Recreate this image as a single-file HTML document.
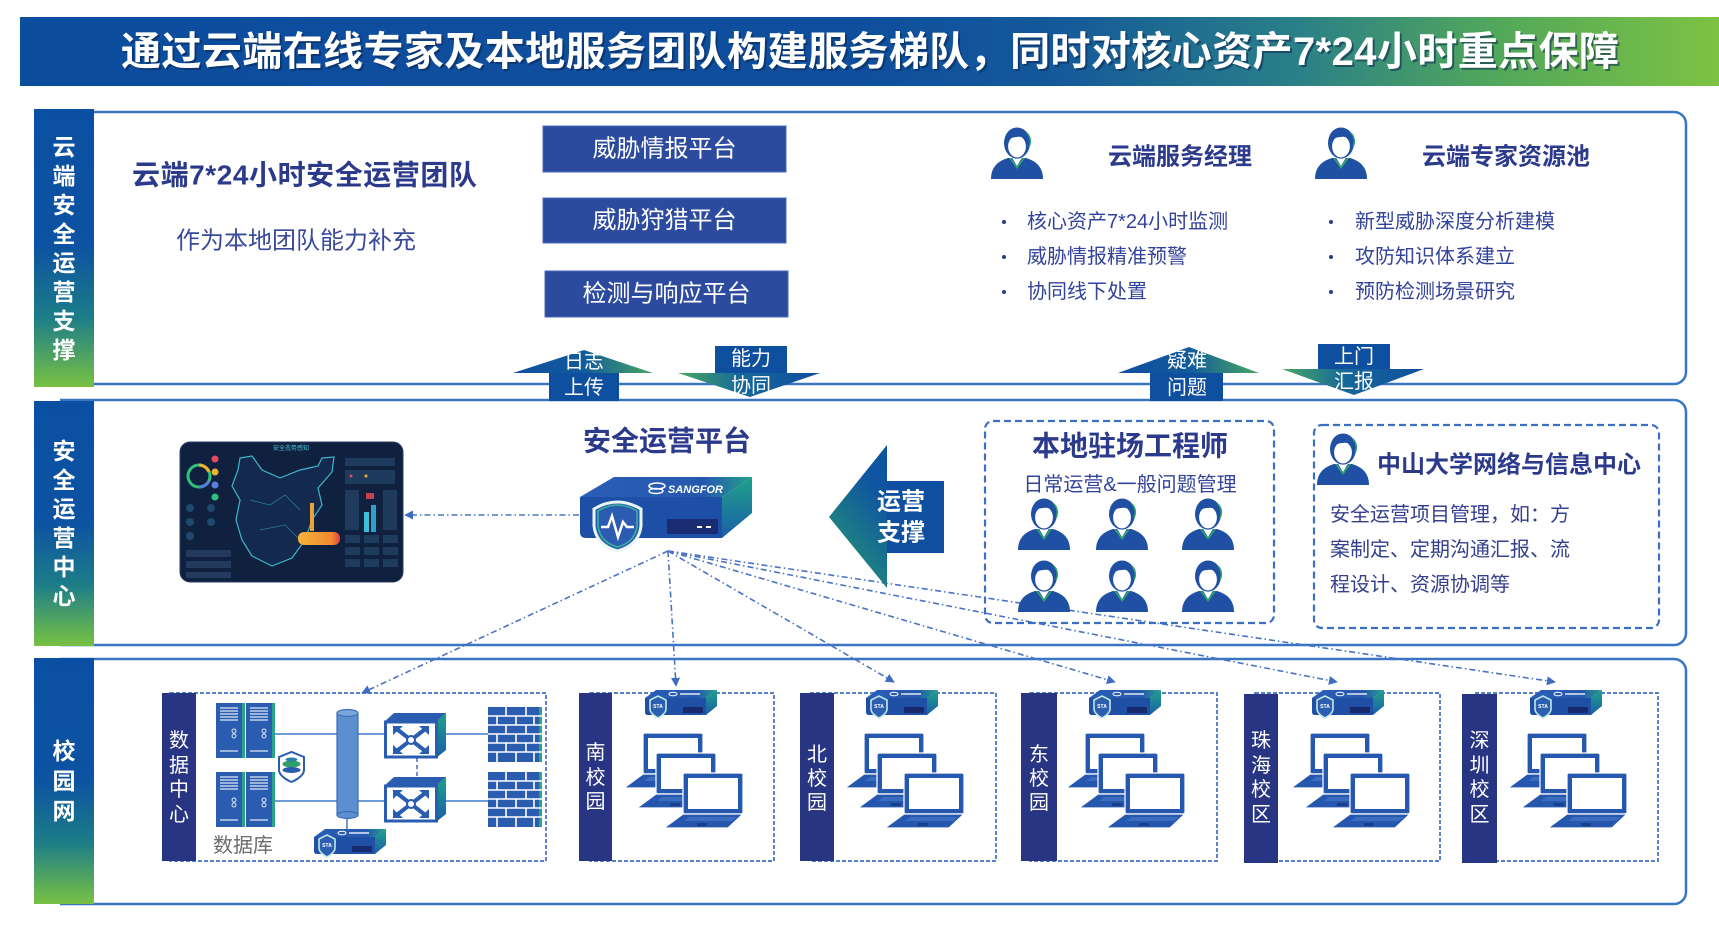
<!DOCTYPE html>
<html><head><meta charset="utf-8"><style>
html,body{margin:0;padding:0;background:#fff;}
svg{display:block;}
text{font-family:"Liberation Sans","Noto Sans CJK SC",sans-serif;}
</style></head><body>
<svg width="1719" height="930" viewBox="0 0 1719 930" xmlns="http://www.w3.org/2000/svg">
<defs>
<linearGradient id="titleG" x1="0" y1="0" x2="1" y2="0">
<stop offset="0" stop-color="#0d4d9d"/><stop offset="0.49" stop-color="#0e4e9d"/><stop offset="0.61" stop-color="#14599a"/><stop offset="0.75" stop-color="#2a7f88"/><stop offset="0.87" stop-color="#52a85a"/><stop offset="1" stop-color="#7dc243"/>
</linearGradient>
<linearGradient id="labG" x1="0" y1="0" x2="0" y2="1">
<stop offset="0" stop-color="#0b4fa3"/><stop offset="0.5" stop-color="#0d53a1"/><stop offset="0.75" stop-color="#1c7d88"/><stop offset="1" stop-color="#78c143"/>
</linearGradient>
<linearGradient id="upG" x1="0" y1="0" x2="1" y2="0">
<stop offset="0" stop-color="#0f4f9f"/><stop offset="0.5" stop-color="#125a9c"/><stop offset="1" stop-color="#46a862"/>
</linearGradient>
<linearGradient id="dnG" x1="0" y1="0" x2="1" y2="0">
<stop offset="0" stop-color="#48a862"/><stop offset="0.45" stop-color="#16679a"/><stop offset="1" stop-color="#0f4f9f"/>
</linearGradient>
<linearGradient id="bigG" x1="1" y1="0" x2="0" y2="1">
<stop offset="0" stop-color="#0d4e9f"/><stop offset="0.45" stop-color="#0f55a0"/><stop offset="0.8" stop-color="#1f8580"/><stop offset="1" stop-color="#3aa06a"/>
</linearGradient>
<linearGradient id="devTopG" x1="0" y1="0" x2="1" y2="0">
<stop offset="0" stop-color="#2a5db6"/><stop offset="0.72" stop-color="#2659ae"/><stop offset="1" stop-color="#23a08a"/>
</linearGradient>
<linearGradient id="devSideG" x1="0" y1="0" x2="0" y2="1">
<stop offset="0" stop-color="#1fa08a"/><stop offset="1" stop-color="#1a5fa8"/>
</linearGradient>
<linearGradient id="orG" x1="0" y1="0" x2="1" y2="0">
<stop offset="0" stop-color="#f6b23a"/><stop offset="0.8" stop-color="#f08a30"/><stop offset="1" stop-color="#e0404a"/>
</linearGradient>
<marker id="ah" viewBox="0 0 10 10" refX="9" refY="5" markerWidth="9" markerHeight="9" orient="auto" markerUnits="userSpaceOnUse"><path d="M0 0 L10 5 L0 10 Z" fill="#3d6cc0"/></marker>

<g id="person">
<path d="M1 52 C1 40 8 34 18 31 L36 31 C46 34 53 40 53 52 Z" fill="#1f50a4"/>
<path d="M21 29 L27 39 L33 29 Z" fill="#fff"/>
<path d="M19 31 L27 42 L35 31 L33 31 L27 39 L21 31 Z" fill="#2ea56c"/>
<ellipse cx="27" cy="16" rx="13" ry="15.5" fill="#1f50a4"/>
<ellipse cx="27" cy="19.5" rx="9.5" ry="11.5" fill="#fff" stroke="#1f50a4" stroke-width="1.2"/>
<path d="M15 17 C14 6 20 1 27 1 C35 1 40 6 39 17 C36 11 31 9 27 10 C22 10 18 12 15 17 Z" fill="#1f50a4"/>
<path d="M37 6 C41 10 41 16 39 20" fill="none" stroke="#2ea56c" stroke-width="1.5"/>
</g>

<g id="sdev">
<polygon points="2,11 13,3 74,3 63,11" fill="url(#devTopG)"/>
<path d="M2 11 H63 V28 H5 Q2 28 2 25 Z" fill="#1f50a6"/>
<polygon points="63,11 74,3 74,19 63,28" fill="url(#devSideG)"/>
<rect x="40" y="20" width="20" height="6" fill="#172a6e"/>
<path d="M7 13 L15 9 L23 13 V22 C23 27 15 31 15 31 C15 31 7 27 7 22 Z" fill="#2c5fb2" stroke="#bfe8e0" stroke-width="1.6"/>
<ellipse cx="30" cy="7" rx="4" ry="1.8" fill="none" stroke="#fff" stroke-width="1"/>
<rect x="37" y="6" width="20" height="2" fill="#fff" opacity=".65"/>
</g>

<g id="lap">
<rect x="0" y="0" width="60" height="41" rx="2" fill="#2457ad" stroke="#fff" stroke-width="1.2"/>
<rect x="5" y="5" width="50" height="31" fill="#fff"/>
<polygon points="0,41 60,41 45,55 -19,55" fill="#2457ad" stroke="#fff" stroke-width="1.2"/>
<polygon points="6,44 54,44 49,48 1,48" fill="#3a6cc0"/>
<rect x="14" y="50" width="10" height="3" fill="#1a3f8a"/>
</g>

<g id="server">
<rect x="0" y="0" width="29" height="55" fill="#2a5cb0"/>
<rect x="26" y="0" width="3" height="55" fill="#2aa38a"/>
<g stroke="#dfe9f7" stroke-width="1.3">
<line x1="4" y1="5" x2="22" y2="5"/><line x1="4" y1="8" x2="22" y2="8"/><line x1="4" y1="11" x2="22" y2="11"/><line x1="4" y1="14" x2="22" y2="14"/><line x1="4" y1="17" x2="22" y2="17"/><line x1="4" y1="48" x2="22" y2="48"/>
</g>
<circle cx="18" cy="28" r="2" fill="none" stroke="#dfe9f7" stroke-width="1"/><circle cx="18" cy="33" r="2" fill="none" stroke="#dfe9f7" stroke-width="1"/>
</g>

<g id="switch">
<polygon points="0,9 10,0 62,0 52,9" fill="#2a5cb0"/>
<polygon points="52,9 62,0 62,37 52,45" fill="url(#devSideG)"/>
<rect x="1.5" y="9" width="51" height="35" fill="#fff" stroke="#2a5cb0" stroke-width="3"/>
<g stroke="#2a5cb0" stroke-width="4" stroke-linecap="round">
<line x1="14" y1="17" x2="40" y2="37"/><line x1="40" y1="17" x2="14" y2="37"/>
</g>
<g fill="#2a5cb0">
<polygon points="9,13 19,13 9,22"/><polygon points="45,13 35,13 45,22"/><polygon points="9,41 19,41 9,32"/><polygon points="45,41 35,41 45,32"/>
</g>
<circle cx="27" cy="27" r="4" fill="#fff" stroke="#2a5cb0" stroke-width="2"/>
</g>

<g id="fw">
<rect x="0" y="0" width="54" height="55" fill="#2a5cb0"/>
<rect x="51" y="0" width="3" height="55" fill="#2aa38a"/>
<g stroke="#fff" stroke-width="1.6">
<line x1="0" y1="9" x2="54" y2="9"/><line x1="0" y1="18" x2="54" y2="18"/><line x1="0" y1="27" x2="54" y2="27"/><line x1="0" y1="36" x2="54" y2="36"/><line x1="0" y1="45" x2="54" y2="45"/>
<line x1="18" y1="0" x2="18" y2="9"/><line x1="38" y1="0" x2="38" y2="9"/>
<line x1="9" y1="9" x2="9" y2="18"/><line x1="28" y1="9" x2="28" y2="18"/><line x1="46" y1="9" x2="46" y2="18"/>
<line x1="18" y1="18" x2="18" y2="27"/><line x1="38" y1="18" x2="38" y2="27"/>
<line x1="9" y1="27" x2="9" y2="36"/><line x1="28" y1="27" x2="28" y2="36"/><line x1="46" y1="27" x2="46" y2="36"/>
<line x1="18" y1="36" x2="18" y2="45"/><line x1="38" y1="36" x2="38" y2="45"/>
<line x1="9" y1="45" x2="9" y2="55"/><line x1="28" y1="45" x2="28" y2="55"/><line x1="46" y1="45" x2="46" y2="55"/>
</g>
</g>
</defs>

<!-- Title -->
<rect x="20" y="17" width="1699" height="69" fill="url(#titleG)"/>
<text x="123" y="54" font-size="40" font-weight="bold" fill="#0a2550" opacity="0.55" dominant-baseline="central" textLength="1498">通过云端在线专家及本地服务团队构建服务梯队，同时对核心资产7*24小时重点保障</text>
<text x="121" y="52" font-size="40" font-weight="bold" fill="#fff" dominant-baseline="central" textLength="1498">通过云端在线专家及本地服务团队构建服务梯队，同时对核心资产7*24小时重点保障</text>

<!-- Section borders -->
<g fill="none" stroke="#3a75c4" stroke-width="2.5">
<path d="M60 112 H1674 A12 12 0 0 1 1686 124 V372 A12 12 0 0 1 1674 384 H60"/>
<path d="M60 400 H1674 A12 12 0 0 1 1686 412 V633 A12 12 0 0 1 1674 645 H60"/>
<path d="M60 659 H1674 A12 12 0 0 1 1686 671 V892 A12 12 0 0 1 1674 904 H60"/>
</g>

<!-- Label bars -->
<rect x="34" y="109" width="60" height="278" fill="url(#labG)"/>
<rect x="34" y="401" width="60" height="245" fill="url(#labG)"/>
<rect x="34" y="658" width="60" height="246" fill="url(#labG)"/>
<g font-size="23" font-weight="bold" fill="#fff" text-anchor="middle" dominant-baseline="central">
<text x="64" y="147">云</text><text x="64" y="176">端</text><text x="64" y="205">安</text><text x="64" y="234">全</text><text x="64" y="263">运</text><text x="64" y="292">营</text><text x="64" y="321">支</text><text x="64" y="350">撑</text>
<text x="64" y="451">安</text><text x="64" y="480">全</text><text x="64" y="509">运</text><text x="64" y="538">营</text><text x="64" y="567">中</text><text x="64" y="596">心</text>
<text x="64" y="751">校</text><text x="64" y="781">园</text><text x="64" y="811">网</text>
</g>

<!-- Section 1 content -->
<text x="132" y="175" font-size="28" font-weight="bold" fill="#2c3a8c" dominant-baseline="central" textLength="345">云端7*24小时安全运营团队</text>
<text x="176" y="241" font-size="24" fill="#3a4a9a" dominant-baseline="central">作为本地团队能力补充</text>

<g fill="#2c4b9e" stroke="#4a6ab8" stroke-width="1">
<rect x="543" y="126" width="243" height="46"/>
<rect x="543" y="198" width="243" height="45"/>
<rect x="545" y="271" width="243" height="46"/>
</g>
<g font-size="24" fill="#fff" text-anchor="middle" dominant-baseline="central">
<text x="664.5" y="149">威胁情报平台</text>
<text x="664.5" y="220.5">威胁狩猎平台</text>
<text x="666.5" y="294">检测与响应平台</text>
</g>

<use href="#person" transform="translate(990,127)"/>
<use href="#person" transform="translate(1314,127)"/>
<g font-size="24" font-weight="bold" fill="#2c3a8c" dominant-baseline="central">
<text x="1108" y="157">云端服务经理</text>
<text x="1422" y="157">云端专家资源池</text>
</g>
<g fill="#2c3b8f">
<circle cx="1004" cy="222" r="2"/><circle cx="1004" cy="257" r="2"/><circle cx="1004" cy="292" r="2"/>
<circle cx="1331" cy="222" r="2"/><circle cx="1331" cy="257" r="2"/><circle cx="1331" cy="292" r="2"/>
</g>
<g font-size="20" fill="#33439a" dominant-baseline="central">
<text x="1027" y="222">核心资产7*24小时监测</text>
<text x="1027" y="257">威胁情报精准预警</text>
<text x="1027" y="292">协同线下处置</text>
<text x="1355" y="222">新型威胁深度分析建模</text>
<text x="1355" y="257">攻防知识体系建立</text>
<text x="1355" y="292">预防检测场景研究</text>
</g>

<!-- Connectors -->
<g fill="none" stroke="#4a73c5" stroke-width="1.6" stroke-dasharray="6 3 1.5 3" marker-end="url(#ah)">
<line x1="579" y1="515" x2="405" y2="515"/>
<line x1="668" y1="551" x2="362" y2="693"/>
<line x1="668" y1="551" x2="676" y2="686"/>
<line x1="668" y1="551" x2="894" y2="682"/>
<line x1="668" y1="551" x2="1115" y2="682"/>
<line x1="668" y1="551" x2="1337" y2="682"/>
<line x1="668" y1="551" x2="1555" y2="682"/>
</g>

<!-- Arrows between section 1 and 2 -->
<polygon points="584,350 653,373 619,373 619,401 549,401 549,373 513,373" fill="url(#upG)"/>
<rect x="549" y="373" width="70" height="28" fill="#0f4f9f"/>
<polygon points="715,346 787,346 787,373 820,373 750,397 678,373 715,373" fill="url(#dnG)"/>
<rect x="715" y="346" width="72" height="27" fill="#0f4f9f"/>
<polygon points="1189,347 1259,373 1223,373 1223,401 1150,401 1150,373 1118,373" fill="url(#upG)"/>
<rect x="1150" y="373" width="73" height="28" fill="#0f4f9f"/>
<polygon points="1318,344 1390,344 1390,369 1424,369 1354,395 1282,369 1318,369" fill="url(#dnG)"/>
<rect x="1318" y="344" width="72" height="25" fill="#0f4f9f"/>
<g font-size="20" fill="#fff" text-anchor="middle" dominant-baseline="central">
<text x="584" y="362">日志</text><text x="584" y="388">上传</text>
<text x="751" y="359">能力</text><text x="751" y="386">协同</text>
<text x="1187" y="361">疑难</text><text x="1187" y="388">问题</text>
<text x="1354" y="357">上门</text><text x="1354" y="382">汇报</text>
</g>

<!-- Section 2 content -->
<!-- Dashboard -->
<rect x="180" y="442" width="223" height="140" rx="10" fill="#10213f" stroke="#2a3f66" stroke-width="1"/>
<text x="291" y="449" font-size="6" fill="#4fc3d8" text-anchor="middle" dominant-baseline="central">安全态势感知</text>
<circle cx="199" cy="476" r="11" fill="none" stroke="#2fc07a" stroke-width="3"/>
<path d="M199 465 A11 11 0 0 1 209 472" fill="none" stroke="#f0b030" stroke-width="3"/>
<path d="M209 481 A11 11 0 0 1 199 487" fill="none" stroke="#5a7ee0" stroke-width="3"/>
<circle cx="215" cy="459" r="3.5" fill="#e04a5a"/><circle cx="215" cy="472" r="3.5" fill="#f0b030"/><circle cx="215" cy="485" r="3.5" fill="#5a7ee0"/><circle cx="215" cy="497" r="3.5" fill="#30c080"/>
<g fill="#1e4a6e"><circle cx="190" cy="508" r="4"/><circle cx="190" cy="522" r="4"/><circle cx="190" cy="536" r="4"/><circle cx="211" cy="508" r="4"/><circle cx="211" cy="522" r="4"/></g>
<g fill="#24395e"><rect x="186" y="550" width="45" height="7"/><rect x="186" y="561" width="45" height="7"/><rect x="186" y="572" width="45" height="6"/></g>
<path d="M240 458 L252 456 L262 470 L280 478 L300 470 L318 466 L322 458 L334 457 L332 472 L318 488 L322 505 L312 520 L305 540 L292 558 L272 566 L252 556 L242 540 L236 520 L240 500 L232 486 L238 470 Z" fill="#13294d" stroke="#3fb6c8" stroke-width="1.2"/>
<path d="M250 500 L270 505 L285 495 L300 510 M260 530 L285 525 L300 540" fill="none" stroke="#2a7e96" stroke-width="0.8"/>
<rect x="310" y="503" width="4" height="28" fill="#e8a23a"/>
<rect x="298" y="532" width="42" height="13" rx="6" fill="url(#orG)"/>
<g fill="#1e3a5c"><rect x="345" y="458" width="50" height="8"/><rect x="345" y="470" width="50" height="14"/><rect x="345" y="490" width="14" height="40"/><rect x="383" y="490" width="14" height="40"/><rect x="345" y="535" width="15" height="8"/><rect x="364" y="535" width="15" height="8"/><rect x="383" y="535" width="15" height="8"/><rect x="345" y="547" width="15" height="8"/><rect x="364" y="547" width="15" height="8"/><rect x="383" y="547" width="15" height="8"/><rect x="345" y="559" width="15" height="8"/><rect x="364" y="559" width="15" height="8"/><rect x="383" y="559" width="15" height="8"/></g>
<rect x="366" y="493" width="8" height="6" fill="#c84050"/>
<rect x="364" y="512" width="5" height="20" fill="#3fc0d8"/><rect x="371" y="505" width="5" height="27" fill="#2fa0c8"/>
<g fill="#e04a5a"><circle cx="351" cy="476" r="1.5"/></g><circle cx="366" cy="476" r="1.5" fill="#f0b030"/>

<text x="583" y="441" font-size="28" font-weight="bold" fill="#2c3a8c" dominant-baseline="central">安全运营平台</text>

<!-- Central device -->
<polygon points="580,497 614,477 752,477 722,497" fill="url(#devTopG)"/>
<path d="M580 497 H722 V538 H586 Q580 538 580 532 Z" fill="#1d4fa7"/>
<polygon points="722,497 752,477 752,513 722,538" fill="url(#devSideG)"/>
<rect x="667" y="519" width="51" height="15" fill="#1a2b72"/>
<rect x="697" y="526" width="5" height="2" fill="#fff"/><rect x="706" y="526" width="5" height="2" fill="#fff"/>
<path d="M594 509 Q617 495 641 509 V526 Q639 545 617.5 551 Q596 545 594 526 Z" fill="#2c5cb1" stroke="#eaf6f4" stroke-width="3"/>
<path d="M598 511 Q617.5 499 637 511 V526 Q635 542 617.5 547 Q600 542 598 526 Z" fill="none" stroke="#39b39a" stroke-width="1.5"/>
<polyline points="601,527 608,527 612,516 618,537 623,522 627,527 634,527" fill="none" stroke="#fff" stroke-width="2.5"/>
<ellipse cx="657" cy="486" rx="8" ry="3" fill="none" stroke="#fff" stroke-width="1.6"/>
<ellipse cx="656" cy="491" rx="7" ry="2.5" fill="none" stroke="#fff" stroke-width="1.4"/>
<text x="668" y="490" font-size="11" font-weight="bold" font-style="italic" fill="#fff" dominant-baseline="central">SANGFOR</text>

<!-- Big arrow -->
<polygon points="829,517 887,445 887,481 944,481 944,553 887,553 887,588" fill="url(#bigG)"/>
<rect x="887" y="481" width="57" height="72" fill="#0f4f9f"/>
<g font-size="24" font-weight="bold" fill="#fff" text-anchor="middle" dominant-baseline="central">
<text x="901" y="502">运营</text><text x="901" y="533">支撑</text>
</g>

<!-- Local engineer box -->
<rect x="985" y="421" width="289" height="202" rx="8" fill="none" stroke="#3a6fc3" stroke-width="2.2" stroke-dasharray="7 4"/>
<text x="1130" y="446" font-size="28" font-weight="bold" fill="#2c3a8c" text-anchor="middle" dominant-baseline="central">本地驻场工程师</text>
<text x="1130" y="485" font-size="20" fill="#33439a" text-anchor="middle" dominant-baseline="central">日常运营&amp;一般问题管理</text>
<use href="#person" transform="translate(1017,498)"/>
<use href="#person" transform="translate(1095,498)"/>
<use href="#person" transform="translate(1181,498)"/>
<use href="#person" transform="translate(1017,560)"/>
<use href="#person" transform="translate(1095,560)"/>
<use href="#person" transform="translate(1181,560)"/>

<!-- ZS box -->
<rect x="1314" y="425" width="345" height="203" rx="8" fill="none" stroke="#3a6fc3" stroke-width="2.2" stroke-dasharray="7 4"/>
<use href="#person" transform="translate(1316,433)"/>
<text x="1377" y="465" font-size="24" font-weight="bold" fill="#2c3a8c" dominant-baseline="central">中山大学网络与信息中心</text>
<g font-size="20" fill="#34408f" dominant-baseline="central">
<text x="1330" y="515">安全运营项目管理，如：方</text>
<text x="1330" y="550">案制定、定期沟通汇报、流</text>
<text x="1330" y="585">程设计、资源协调等</text>
</g>

<!-- Section 3 content -->
<g fill="none" stroke="#3e6ec4" stroke-width="1.7" stroke-dasharray="4 2">
<rect x="170" y="693" width="376" height="168"/>
<rect x="590" y="693" width="184" height="168"/>
<rect x="810" y="693" width="186" height="168"/>
<rect x="1030" y="693" width="187" height="168"/>
<rect x="1255" y="693" width="185" height="168"/>
<rect x="1475" y="693" width="183" height="168"/>
</g>
<g fill="#283583">
<rect x="162" y="693" width="34" height="168"/>
<rect x="579" y="693" width="33" height="168"/>
<rect x="800" y="693" width="34" height="168"/>
<rect x="1021" y="693" width="36" height="168"/>
<rect x="1244" y="694" width="34" height="169"/>
<rect x="1462" y="694" width="35" height="169"/>
</g>
<g font-size="20" fill="#fff" text-anchor="middle" dominant-baseline="central">
<text x="179" y="741">数</text><text x="179" y="766">据</text><text x="179" y="790">中</text><text x="179" y="815">心</text>
<text x="595.5" y="753">南</text><text x="595.5" y="778">校</text><text x="595.5" y="802">园</text>
<text x="817" y="755">北</text><text x="817" y="779">校</text><text x="817" y="803">园</text>
<text x="1039" y="755">东</text><text x="1039" y="779">校</text><text x="1039" y="803">园</text>
<text x="1261" y="741">珠</text><text x="1261" y="766">海</text><text x="1261" y="790">校</text><text x="1261" y="815">区</text>
<text x="1479.5" y="741">深</text><text x="1479.5" y="766">圳</text><text x="1479.5" y="790">校</text><text x="1479.5" y="815">区</text>
</g>

<!-- Data center -->
<g stroke="#6d9bd6" stroke-width="2">
<line x1="275" y1="734" x2="386" y2="734"/><line x1="446" y1="734" x2="488" y2="734"/>
<line x1="275" y1="801" x2="386" y2="801"/><line x1="446" y1="801" x2="488" y2="801"/>
<line x1="347" y1="815" x2="347" y2="832"/>
</g>
<line x1="417" y1="758" x2="417" y2="777" stroke="#3e6ec4" stroke-width="1.5" stroke-dasharray="4 3"/>
<use href="#server" transform="translate(216,703)"/><use href="#server" transform="translate(246,703)"/>
<use href="#server" transform="translate(216,772)"/><use href="#server" transform="translate(246,772)"/>
<path d="M279 757 L291.5 752 L304 757 V770 C304 777 291.5 782 291.5 782 C291.5 782 279 777 279 770 Z" fill="#fff" stroke="#2a5cb0" stroke-width="2"/>
<ellipse cx="291.5" cy="764" rx="9" ry="3.5" fill="#2fa06a"/><ellipse cx="291.5" cy="770" rx="9" ry="3" fill="#2a5cb0"/><ellipse cx="291.5" cy="759.5" rx="6" ry="2" fill="#2a7fb0"/>
<rect x="337" y="713" width="21" height="102" fill="#5b8fd0" stroke="#3c6fba" stroke-width="1.2"/>
<ellipse cx="347.5" cy="713" rx="10.5" ry="3.5" fill="#7aa6dc" stroke="#3c6fba" stroke-width="1.2"/>
<ellipse cx="347.5" cy="815" rx="10.5" ry="3.5" fill="#5b8fd0" stroke="#3c6fba" stroke-width="1.2"/>
<use href="#switch" transform="translate(384,713)"/>
<use href="#switch" transform="translate(384,777)"/>
<use href="#fw" transform="translate(488,707)"/>
<use href="#fw" transform="translate(488,772)"/>
<use href="#sdev" transform="translate(312,826)"/>
<text x="213" y="846" font-size="20" fill="#6b6b6b" dominant-baseline="central">数据库</text>

<!-- Campus devices -->
<use href="#sdev" transform="translate(643,687)"/>
<use href="#sdev" transform="translate(864,687)"/>
<use href="#sdev" transform="translate(1087,687)"/>
<use href="#sdev" transform="translate(1310,687)"/>
<use href="#sdev" transform="translate(1528,687)"/>
<g font-size="5" font-weight="bold" fill="#fff" text-anchor="middle" dominant-baseline="central">
<text x="327" y="846">STA</text><text x="658" y="707">STA</text><text x="879" y="707">STA</text><text x="1102" y="707">STA</text><text x="1325" y="707">STA</text><text x="1543" y="707">STA</text>
</g>

<!-- Laptops -->
<use href="#lap" transform="translate(643,733)"/><use href="#lap" transform="translate(656,753)"/><use href="#lap" transform="translate(683,773)"/>
<use href="#lap" transform="translate(864,733)"/><use href="#lap" transform="translate(877,753)"/><use href="#lap" transform="translate(904,773)"/>
<use href="#lap" transform="translate(1085,733)"/><use href="#lap" transform="translate(1098,753)"/><use href="#lap" transform="translate(1125,773)"/>
<use href="#lap" transform="translate(1310,733)"/><use href="#lap" transform="translate(1323,753)"/><use href="#lap" transform="translate(1350,773)"/>
<use href="#lap" transform="translate(1527,733)"/><use href="#lap" transform="translate(1540,753)"/><use href="#lap" transform="translate(1567,773)"/>
</svg>
</body></html>
